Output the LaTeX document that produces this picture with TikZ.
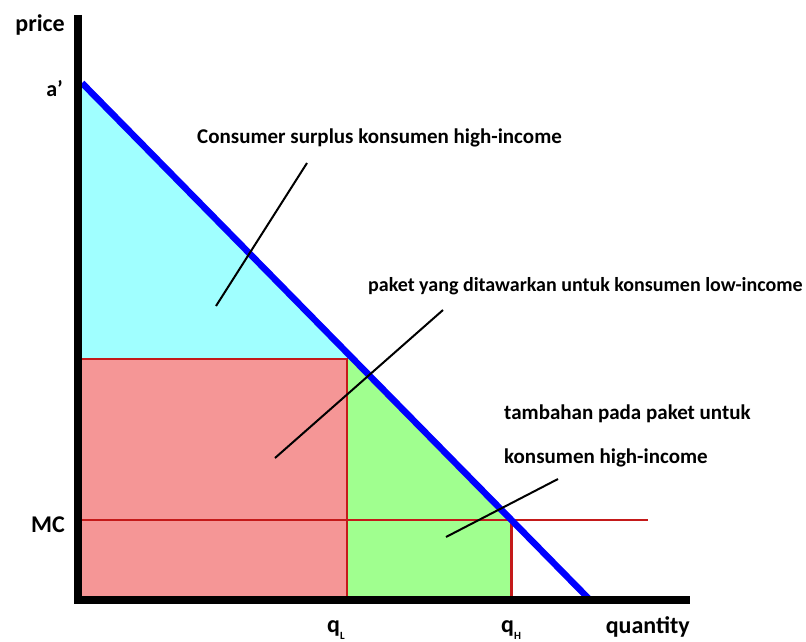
\documentclass[tikz,border=0pt]{standalone}
\usepackage{fontspec}
\setmainfont{Carlito}
\usetikzlibrary{calc}
\definecolor{surplusfill}{HTML}{A0FFFF}
\definecolor{lowfill}{HTML}{F59696}
\definecolor{addfill}{HTML}{A0FF8F}
\definecolor{mcred}{HTML}{C41A1A}

\begin{document}
\begin{tikzpicture}[x=1pt,y=-1pt,
    lbl/.style={font=\bfseries\fontsize{21}{24}\selectfont,inner sep=0pt},
    axlbl/.style={font=\bfseries\fontsize{24}{26}\selectfont,inner sep=0pt},
    leader/.style={line width=2pt,black},
    edge/.style={line width=2.6pt,draw=mcred}]
        \useasboundingbox (0,0) rectangle (806,642);
        % points of the graph
        \coordinate (o) at (78,600);
        \coordinate (a) at (82,83);
        \coordinate (d) at (590,600);
        \coordinate (h) at ($(a)!{437/517}!(d)$);
        % areas
        \fill[surplusfill] (a)--($(a)!{276/517}!(d)$)--(82,359)--cycle;
        \fill[addfill] (347,353)--(h)--(h|-o)--(347,600)--cycle;
        \fill[lowfill] (82,359) rectangle (347,600);
        \draw[edge] (82,359)--(347,359)--(347,600);
        \draw[edge] (h)--(h|-o);
        \draw[edge] (82,520)--(648,520);
        \draw[line width=6.5pt,blue] (a)--(d);
        % axes
        \draw[line width=7.5pt] (78,15)--(o)--(690,600);
        \node[axlbl,anchor=base east] (price) at (65,32) {price};
        \node[axlbl,font=\bfseries\fontsize{22}{24}\selectfont,anchor=base east] (astar) at (63,96) {a’};
        \node[axlbl,anchor=base east] (mc) at (65,532) {MC};
        \node[axlbl,anchor=base east] (quantity) at (690,633) {quantity};
        \node[axlbl,anchor=base west] (ql) at (327,632) {q\raisebox{-7pt}{\fontsize{11}{11}\selectfont L}};
        \node[axlbl,anchor=base west] (qh) at (501,632) {q\raisebox{-7pt}{\fontsize{11}{11}\selectfont H}};
        % labels and their leaders
        \node[lbl,anchor=base west] (cs) at (197,143) {Consumer surplus konsumen high-income};
        \node[lbl,font=\bfseries\fontsize{20}{24}\selectfont,anchor=base west] (low) at (368,291) {paket yang ditawarkan untuk konsumen low-income};
        \node[lbl,anchor=base west] (add1) at (504,419) {tambahan pada paket untuk};
        \node[lbl,anchor=base west] (add2) at (504,463) {konsumen high-income};
        \coordinate (cs1) at (307,163);
        \coordinate (cs2) at (216,306);
        \coordinate (low1) at (443,310);
        \coordinate (low2) at (275,458);
        \coordinate (add3) at (558,479);
        \coordinate (add4) at (446,537);
        \draw[leader] (cs1)--(cs2);
        \draw[leader] (low1)--(low2);
        \draw[leader] (add3)--(add4);
    \end{tikzpicture}
\end{document}
